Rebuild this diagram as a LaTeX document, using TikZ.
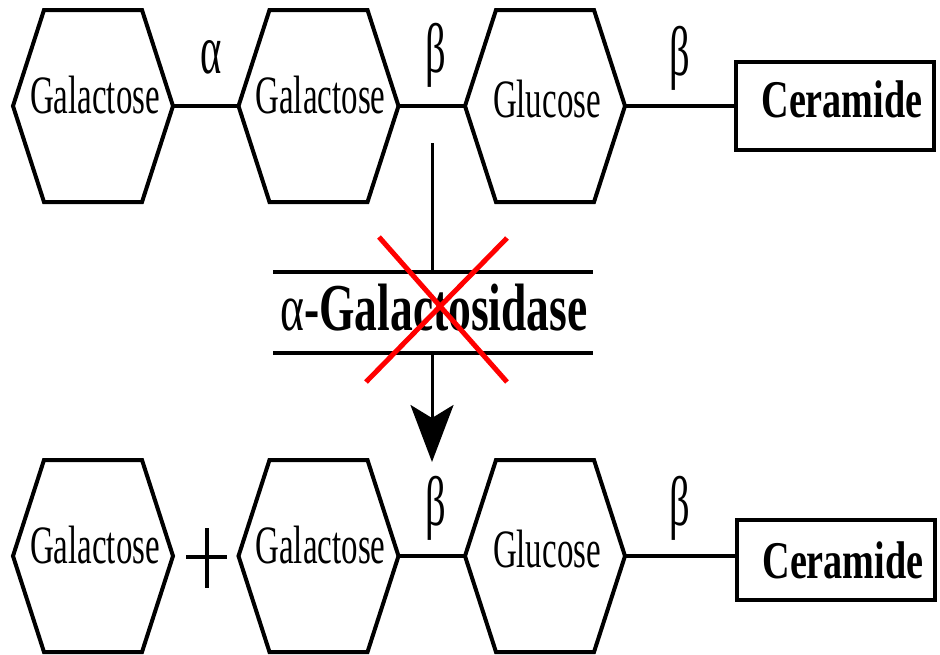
\documentclass[tikz,border=0pt]{standalone}
\usepackage{fontspec}
\setmainfont{Liberation Serif}
\usepackage{graphicx}
\usetikzlibrary{arrows.meta}
\newcommand\sq[1]{\scalebox{0.61}[1]{#1}}
\newcommand\gk[1]{\scalebox{0.58}[1]{#1}}
\tikzset{
  hexline/.style={line width=4pt, line join=miter},
  bond/.style={line width=3.5pt},
  sugartext/.style={inner sep=0pt, anchor=base, font=\fontsize{54}{54}\selectfont},
  linklabel/.style={inner sep=0pt, anchor=base, font=\fontsize{70}{70}\selectfont},
  cerbox/.style={draw, line width=4.5pt, minimum width=198pt, inner sep=0pt,
    font=\bfseries\fontsize{53}{53}\selectfont},
  enzbar/.style={line width=4pt},
  vline/.style={line width=3pt},
  redx/.style={draw=red, line width=5pt},
  plusline/.style={line width=4.5pt}
}
% name, cx, cy, text, baseline y
\newcommand\hexa[5]{%
  \draw[hexline] (#2-80,#3) -- (#2-49,#3-96) -- (#2+49,#3-96) -- (#2+80,#3)
    -- (#2+49,#3+96) -- (#2-49,#3+96) -- cycle;
  \coordinate (#1-l) at (#2-80,#3);
  \coordinate (#1-r) at (#2+80,#3);
  \node[sugartext] (#1) at (#2+2,#5) {\sq{#4}};
}
\begin{document}
\begin{tikzpicture}[x=1pt,y=-1pt]
\useasboundingbox (0,0) rectangle (940,654);
% top row
\hexa{a1}{93}{106}{Galactose}{113}
\hexa{a2}{318.5}{106}{Galactose}{113}
\hexa{a3}{545}{106}{Glucose}{117}
\node[cerbox, minimum height=88pt, text depth=14pt] (c1) at (835,106) {\hspace*{14pt}\scalebox{0.72}[1]{Ceramide}};
\draw[bond] (a1-r) -- (a2-l);
\draw[bond] (a2-r) -- (a3-l);
\draw[bond] (a3-r) -- (a3-r -| c1.west);
\node[linklabel] (l1) at (211,73) {\gk{α}};
\node[linklabel] (l2) at (436,72) {\gk{β}};
\node[linklabel] (l3) at (680,75) {\gk{β}};
% bottom row
\hexa{b1}{93}{556}{Galactose}{563}
\hexa{b2}{318.5}{556}{Galactose}{563}
\hexa{b3}{545}{556}{Glucose}{567}
\node[cerbox, minimum height=80pt] (c2) at (836,560) {\hspace*{14pt}\scalebox{0.72}[1]{Ceramide}};
\draw[bond] (b2-r) -- (b3-l);
\draw[bond] (b3-r) -- (b3-r -| c2.west);
\node[linklabel] (m2) at (436,525) {\gk{β}};
\node[linklabel] (m3) at (680,525) {\gk{β}};
\draw[plusline] (186,557) -- (227,557);
\draw[plusline] (207,528) -- (207,588);
% enzyme
\draw[enzbar] (273,272) -- (593,272);
\draw[enzbar] (273,353) -- (593,353);
\node[inner sep=0pt, anchor=base, font=\fontsize{67}{67}\selectfont] (enz) at (434,330)
  {\scalebox{0.68}[1]{α\textbf{-Galactosidase}}};
\coordinate (src) at (432,143);
\coordinate (bartop) at (432,272);
\coordinate (barbot) at (432,353);
\coordinate (tip) at (432,462);
\draw[vline] (src) -- (bartop);
\draw[vline, -{Stealth[length=57pt, width=43pt, inset=13pt]}] (barbot) -- (tip);
% red cross
\draw[redx] (379,237) -- (507,382);
\draw[redx] (507,238) -- (366,382);
\end{tikzpicture}
\end{document}
